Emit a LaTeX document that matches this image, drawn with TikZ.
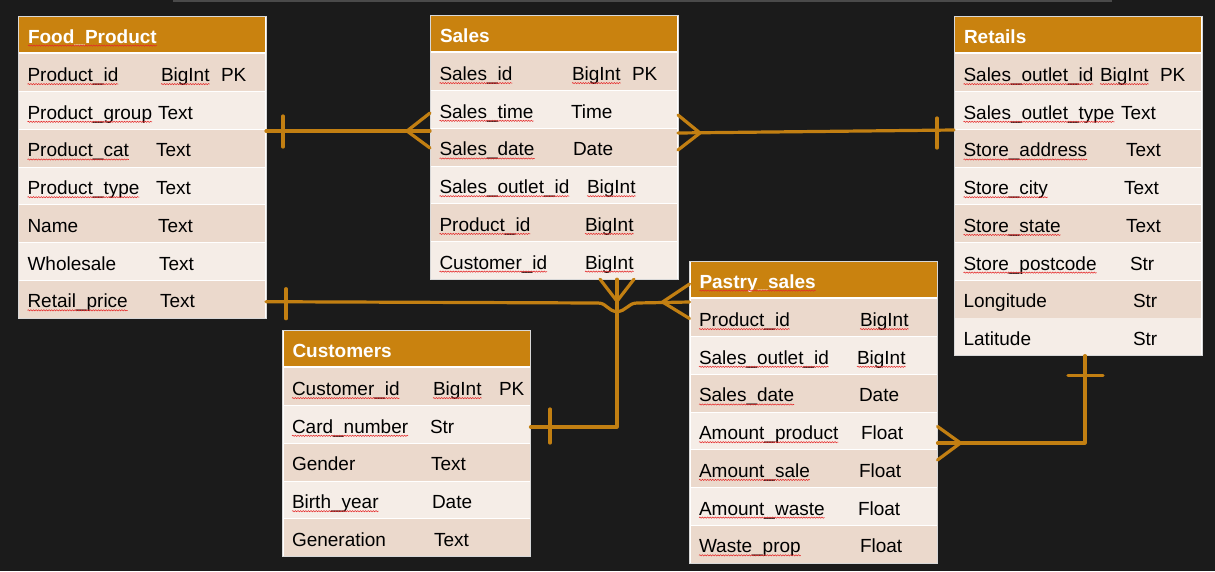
\documentclass[tikz,border=0pt]{standalone}
\usepackage{fontspec}
\setmainfont{Liberation Sans}
\usetikzlibrary{decorations.pathmorphing,calc}
\definecolor{bg}{HTML}{1B1B1B}
\definecolor{hdr}{HTML}{C9820F}
\definecolor{rowd}{HTML}{EBD9CC}
\definecolor{rowl}{HTML}{F5EDE7}
\definecolor{conn}{HTML}{C27F12}
\definecolor{sq}{HTML}{E52B2B}
\definecolor{tline}{HTML}{4A4A4A}
\definecolor{tborder}{HTML}{D8D8D8}
\tikzset{
  tblbox/.style={fill=white,draw=tborder,line width=0.8pt,minimum width=248pt,inner sep=0pt,outer sep=0pt},
  hdrbox/.style={fill=hdr,minimum width=246pt,minimum height=35pt,inner sep=0pt,outer sep=0pt},
  rowbox/.style={minimum width=246pt,minimum height=36.9pt,inner sep=0pt,outer sep=0pt},
  txt/.style={font=\fontsize{19}{22}\selectfont,text=black,inner sep=0pt,outer sep=0pt,anchor=base west},
  hdrtxt/.style={txt,text=white,font=\bfseries\fontsize{19}{22}\selectfont},
  squig/.style={draw=sq,line width=0.55pt,decorate,decoration={snake,amplitude=0.6pt,segment length=2.6pt}},
  sp/.style={append after command={([yshift=-2.6pt]\tikzlastnode.base west) edge[squig] ([yshift=-2.6pt]\tikzlastnode.base east)}},
  nosp/.style={},
  link/.style={draw=conn,line width=3.2pt,line cap=round,line join=round},
}
\newcommand\ertable[6]{%
  \def\tL{#2}\def\tT{#3}%
  \pgfmathsetmacro\tH{38+#4*37.7}%
  \node[tblbox,minimum height={\tH pt},anchor=north west] (#1) at (#2,#3) {};
  \node[hdrbox,anchor=north west] (#1-h) at (#2+1,#3+1) {};
  \node[hdrtxt,#6] (#1-title) at (#2+10,#3+27) {#5};
  \foreach \i in {1,...,#4}{%
    \pgfmathsetmacro\ry{#3+38.4+(\i-1)*37.7}%
    \pgfmathtruncatemacro\odd{mod(\i,2)}%
    \ifnum\odd=1 \def\rc{rowd}\else\def\rc{rowl}\fi
    \node[rowbox,fill=\rc,anchor=north west] (#1-r\i) at (#2+1,\ry) {};
  }%
}
\newcommand\fld[7]{%
  \pgfmathsetmacro\yb{\tT+38+(#2-1)*37.7+27.5}%
  \node[txt,#3] (#1-n#2) at (\tL+9.5,\yb) {#4};
  \node[txt,#6] (#1-t#2) at (#5,\yb) {#7};
}
\newcommand\pk[2]{\node[txt] (#1-pk) at (#2,\yb) {PK};}
\begin{document}
\begin{tikzpicture}[x=1pt,y=-1pt]
\useasboundingbox (0,0) rectangle (1215,571);
\fill[bg] (0,0) rectangle (1215,571);
\draw[tline,line width=1.5pt] (173,0.75) -- (1112,0.75);

% Food_Product
\ertable{fp}{18}{16}{7}{Food\_Product}{sp}
\fld{fp}{1}{sp}{Product\_id}{161}{sp}{BigInt}\pk{fp}{221}
\fld{fp}{2}{sp}{Product\_group}{158}{nosp}{Text}
\fld{fp}{3}{sp}{Product\_cat}{156}{nosp}{Text}
\fld{fp}{4}{sp}{Product\_type}{156}{nosp}{Text}
\fld{fp}{5}{nosp}{Name}{158}{nosp}{Text}
\fld{fp}{6}{nosp}{Wholesale}{159}{nosp}{Text}
\fld{fp}{7}{sp}{Retail\_price}{160}{nosp}{Text}

% Sales
\ertable{sa}{430}{15}{6}{Sales}{nosp}
\fld{sa}{1}{sp}{Sales\_id}{572}{sp}{BigInt}\pk{sa}{632}
\fld{sa}{2}{sp}{Sales\_time}{571}{nosp}{Time}
\fld{sa}{3}{sp}{Sales\_date}{573}{nosp}{Date}
\fld{sa}{4}{sp}{Sales\_outlet\_id}{587}{sp}{BigInt}
\fld{sa}{5}{sp}{Product\_id}{585}{sp}{BigInt}
\fld{sa}{6}{sp}{Customer\_id}{585}{sp}{BigInt}

% Retails
\ertable{re}{954}{16}{8}{Retails}{nosp}
\fld{re}{1}{sp}{Sales\_outlet\_id}{1100}{sp}{BigInt}\pk{re}{1160}
\fld{re}{2}{sp}{Sales\_outlet\_type}{1121}{nosp}{Text}
\fld{re}{3}{sp}{Store\_address}{1126}{nosp}{Text}
\fld{re}{4}{sp}{Store\_city}{1124}{nosp}{Text}
\fld{re}{5}{sp}{Store\_state}{1126}{nosp}{Text}
\fld{re}{6}{sp}{Store\_postcode}{1130}{nosp}{Str}
\fld{re}{7}{nosp}{Longitude}{1133}{nosp}{Str}
\fld{re}{8}{nosp}{Latitude}{1133}{nosp}{Str}

% Pastry_sales
\ertable{ps}{689.5}{261}{7}{Pastry\_sales}{sp}
\fld{ps}{1}{sp}{Product\_id}{860}{sp}{BigInt}
\fld{ps}{2}{sp}{Sales\_outlet\_id}{857}{sp}{BigInt}
\fld{ps}{3}{sp}{Sales\_date}{859}{nosp}{Date}
\fld{ps}{4}{sp}{Amount\_product}{861}{nosp}{Float}
\fld{ps}{5}{sp}{Amount\_sale}{859}{nosp}{Float}
\fld{ps}{6}{sp}{Amount\_waste}{858}{nosp}{Float}
\fld{ps}{7}{sp}{Waste\_prop}{860}{nosp}{Float}

% Customers
\ertable{cu}{282.5}{330}{5}{Customers}{nosp}
\fld{cu}{1}{sp}{Customer\_id}{433}{sp}{BigInt}\pk{cu}{499}
\fld{cu}{2}{sp}{Card\_number}{430}{nosp}{Str}
\fld{cu}{3}{nosp}{Gender}{431}{nosp}{Text}
\fld{cu}{4}{sp}{Birth\_year}{432}{nosp}{Date}
\fld{cu}{5}{nosp}{Generation}{434}{nosp}{Text}

% connector end points
\coordinate (c1a) at (fp.east |- 0,131);
\coordinate (c1b) at (sa.west |- 0,131);
\coordinate (c2a) at (sa.east |- 0,133);
\coordinate (c2b) at (re.west |- 0,130);
\coordinate (c3a) at (fp.east |- 0,301.7);
\coordinate (c3b) at (ps.west |- 0,302);
\coordinate (c4a) at (sa.south -| 617,0);
\coordinate (c4b) at (cu.east |- 0,427);
\coordinate (c5a) at (ps.east |- 0,443);
\coordinate (c5b) at (re.south -| 1085,0);

% Food_Product -- Sales
\draw[link] (c1a) -- (c1b);
\draw[link] (c1a) ++(17,-15) -- ++(0,31);
\draw[link] (c1b) ++(0,-18) -- ++(-23,18) -- ++(23,17);
% Sales -- Retails
\draw[link] (c2a) -- (c2b);
\draw[link] (c2a) ++(0,-18) -- ++(22,18) -- ++(-22,17);
\draw[link] (c2b) ++(-17,-12) -- ++(0,30);
% Food_Product -- Pastry_sales
\draw[link] (c3a) -- (598,303) .. controls (607,303) and (608,311.5) .. (617,311.5) .. controls (626,311.5) and (628,303) .. (637,303) -- (c3b);
\draw[link] (c3a) ++(20,-13) -- ++(0,30);
\draw[link] (c3b) ++(0,-18) -- ++(-27,18) -- ++(27,16.5);
% Sales -- Customers
\draw[link] (c4a) |- (c4b);
\draw[link] (c4a) ++(-17,0) -- ++(17,22) -- ++(17,-22);
\draw[link] (c4b) ++(19.5,-18) -- ++(0,34);
% Pastry_sales -- Retails
\draw[link] (c5a) -| (c5b);
\draw[link] (c5a) ++(0,-16.5) -- ++(23,16.5) -- ++(-23,17);
\draw[link] (c5b) ++(-17,20) -- ++(35,0);
\end{tikzpicture}
\end{document}
